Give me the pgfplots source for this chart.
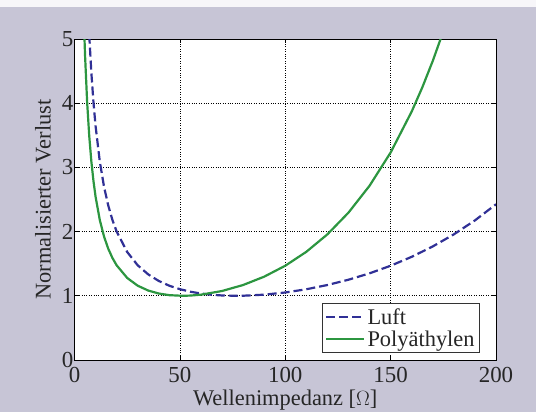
\documentclass[border=0pt]{standalone}
\usepackage{fontspec}
\setmainfont{Liberation Serif}
\usepackage{pgfplots}
\pgfplotsset{compat=1.18}
\definecolor{bgc}{RGB}{199,197,214}
\definecolor{luft}{RGB}{48,48,150}
\definecolor{poly}{RGB}{44,150,64}
\begin{document}
\begin{tikzpicture}
\fill[bgc] (-74.5bp,-52bp) rectangle (461.5bp,360bp);
\fill[white!85!bgc] (-74.5bp,353bp) rectangle (461.5bp,360bp);
\begin{axis}[
  at={(0,0)}, anchor=south west,
  scale only axis, width=421.5bp, height=321bp,
  xmin=0, xmax=200, ymin=0, ymax=5,
  xtick={0,50,100,150,200}, ytick={0,1,2,3,4,5},
  grid=major,
  major grid style={black, dotted, line width=0.7pt},
  axis line style={black, line width=0.9pt},
  tick style={black, line width=0.7pt},
  major tick length=4bp,
  tick align=inside,
  axis background/.style={fill=white},
  /pgf/number format/assume math mode=true,
  tick label style={font=\fontsize{23}{25}\selectfont, text=black!85},
  xticklabel style={inner sep=1pt, yshift=-6bp},
  yticklabel style={inner sep=1pt},
  label style={font=\fontsize{22.5}{25}\selectfont, text=black!85},
  xlabel={Wellenimpedanz [$\Omega$]},
  ylabel={Normalisierter Verlust},
  xlabel style={at={(axis description cs:0.5,-0.1246)}, anchor=center},
  ylabel style={at={(axis description cs:-0.0747,0.5)}, anchor=center},
  legend style={at={(1,0)}, anchor=south east, xshift=-16bp, yshift=7bp,
    draw=black!80, line width=0.8pt, font=\fontsize{22.5}{24}\selectfont, text=black!85,
    inner sep=3pt, row sep=1pt, legend cell align=left},
  legend image code/.code={\draw[#1] (0cm,0cm) -- (38bp,0cm);},
]
\addplot[luft, line width=2.2pt, dash pattern=on 9bp off 4bp] coordinates {
(7,5.069) (7.2,4.937) (8,4.475) (9,4.013) (10,3.645) (12,3.093) (14,2.700)
(16,2.408) (18,2.181) (20,2.001) (25,1.682) (30,1.475) (35,1.333) (40,1.231)
(45,1.157) (50,1.103) (55,1.0635) (60,1.0354) (65,1.0165) (70,1.0052) (77,1.0000)
(80,1.0012) (90,1.0177) (100,1.0517) (110,1.1019) (120,1.1680) (130,1.2504)
(140,1.3500) (150,1.4683) (160,1.6073) (170,1.7693) (180,1.9572) (190,2.1745) (200,2.4253)
};
\addlegendentry{Luft}
\addplot[poly, line width=2.2pt] coordinates {
(4.5,5.245) (5,4.752) (6,4.013) (7,3.487) (8,3.093) (9,2.788) (10,2.544)
(12,2.181) (14,1.9246) (16,1.7347) (18,1.5893) (20,1.475) (25,1.2779) (30,1.157)
(35,1.0817) (40,1.0354) (45,1.0100) (51.3,1.0000) (55,1.0035) (60,1.0177)
(70,1.0748) (80,1.1680) (90,1.2980) (100,1.4683) (110,1.6852) (120,1.9572)
(130,2.2954) (140,2.7143) (150,3.2318) (160,3.8705) (165,4.2439) (170,4.6589) (175,5.1198)
};
\addlegendentry{Polyäthylen}
\end{axis}
\end{tikzpicture}
\end{document}
